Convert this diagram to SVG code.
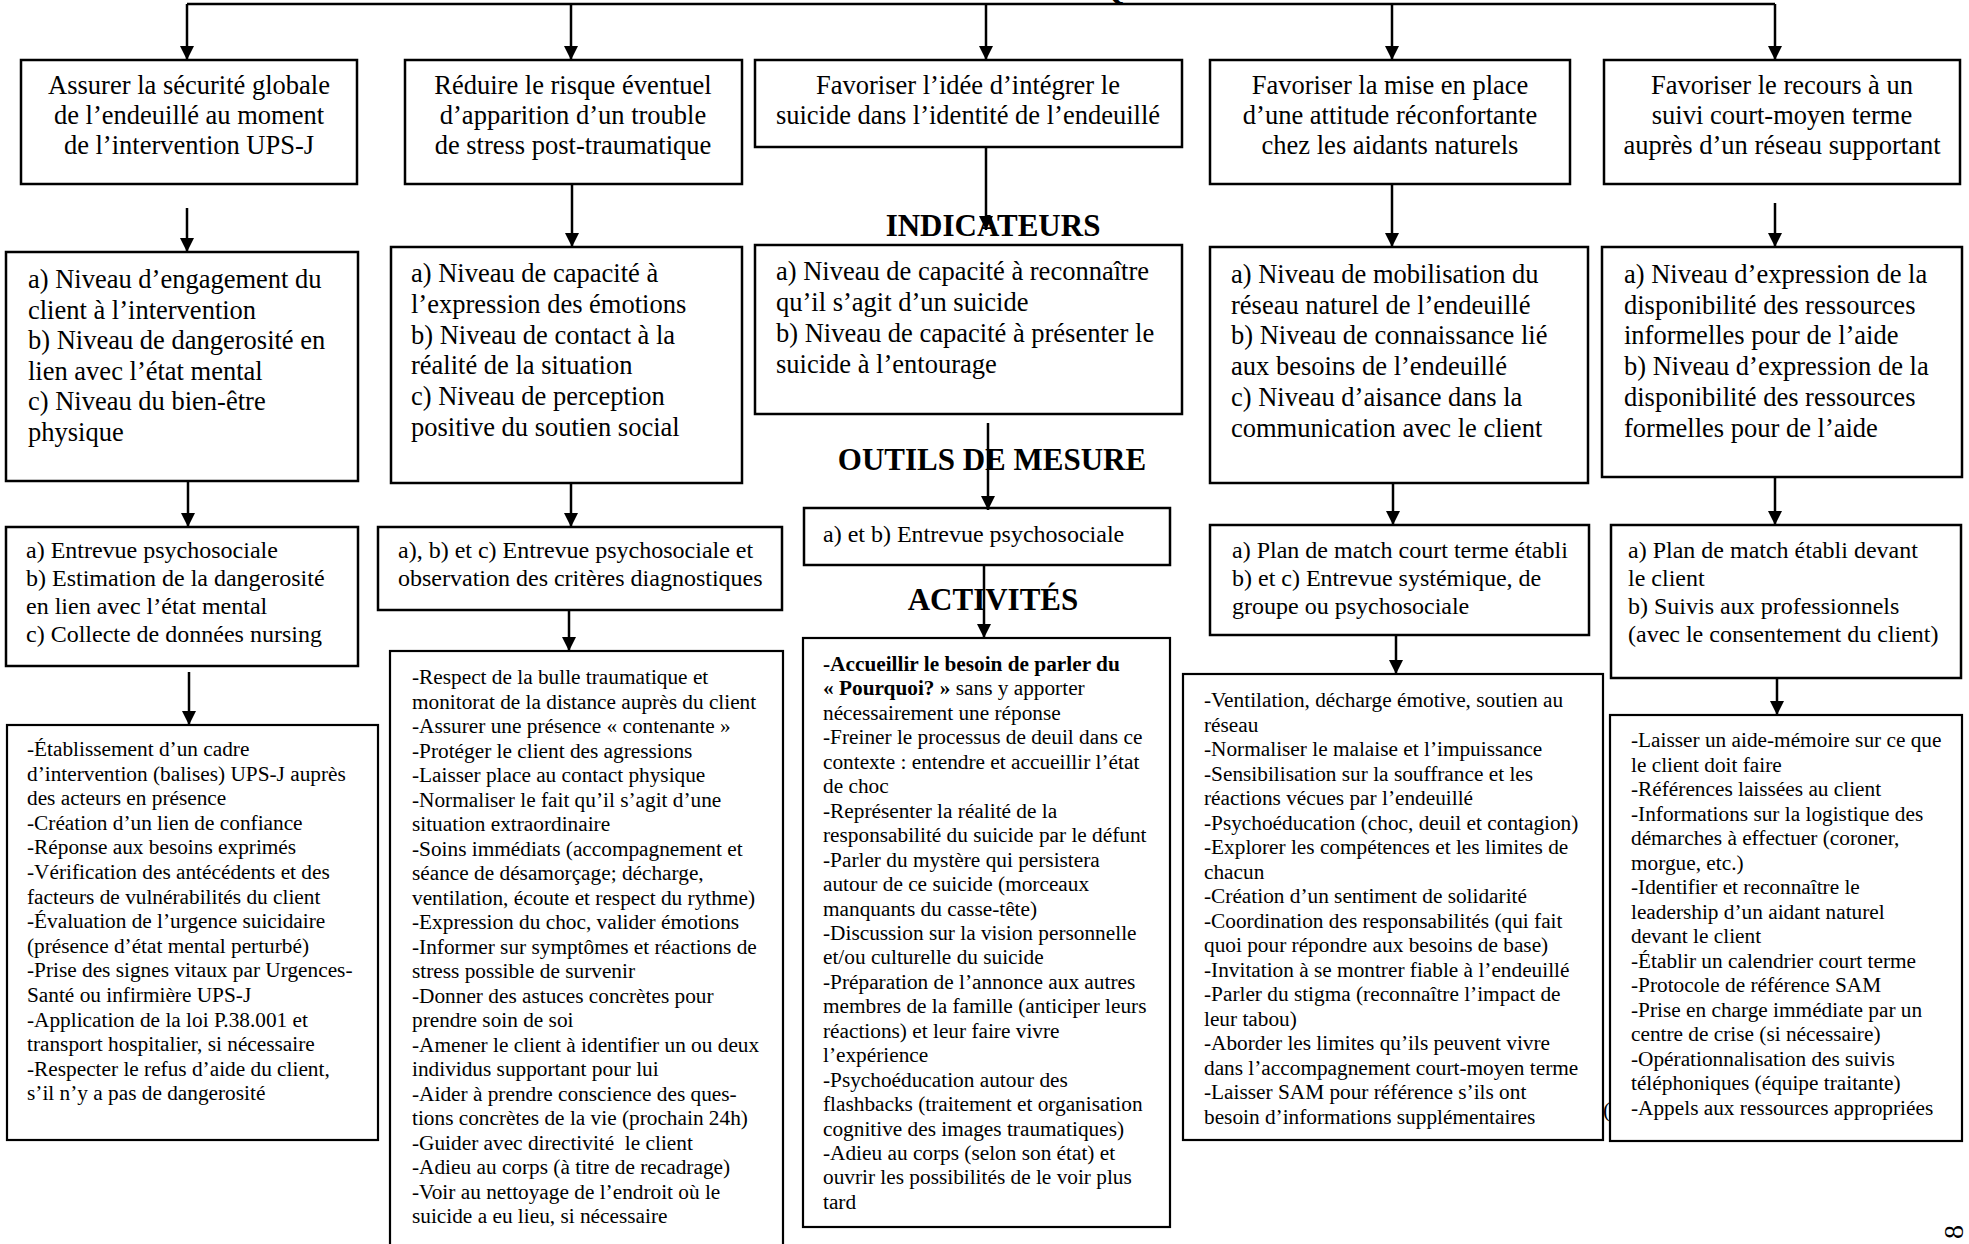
<svg xmlns="http://www.w3.org/2000/svg" width="1969" height="1244" viewBox="0 0 1969 1244">
<style>
.box{fill:#fff;stroke:#000;stroke-width:2.5}
.abox{fill:#fff;stroke:#000;stroke-width:2.2}
text{font-family:"Liberation Serif","Times New Roman",serif;fill:#000}
.t1{font-size:26.5px;text-anchor:middle}
.t2{font-size:26.5px}
.t3{font-size:24px}
.t4{font-size:21.3px}
.h{font-size:31px;font-weight:bold;text-anchor:middle}
.conn{stroke:#000;stroke-width:2.5;fill:none}
.arr{marker-end:url(#ah)}
</style>
<defs>
<marker id="ah" markerUnits="userSpaceOnUse" markerWidth="14" markerHeight="14" refX="14" refY="7" orient="auto">
<path d="M0,0 L14,7 L0,14 z" fill="#000"/>
</marker>
</defs>
<rect width="1969" height="1244" fill="#fff"/>

<g id="fragments">
<text x="1100" y="-1" style="font-size:31px;font-weight:bold">Q</text>
<text x="1603" y="1117" style="font-size:22px">(</text>
<text transform="translate(1953,1232) rotate(-90)" style="font-size:28px;text-anchor:middle;dominant-baseline:central">8</text>
</g>

<g id="headings">
<text class="h" x="993" y="236">INDICATEURS</text>
<text class="h" x="992" y="470">OUTILS DE MESURE</text>
<text class="h" x="993" y="610">ACTIVITÉS</text>
</g>

<g id="obj-a">
<rect class="box" x="21" y="60" width="336" height="124"/>
<text class="t1" x="189" y="94">Assurer la sécurité globale</text>
<text class="t1" x="189" y="124">de l’endeuillé au moment</text>
<text class="t1" x="189" y="154">de l’intervention UPS-J</text>
</g>
<g id="obj-b">
<rect class="box" x="405" y="60" width="337" height="124"/>
<text class="t1" x="573" y="94">Réduire le risque éventuel</text>
<text class="t1" x="573" y="124">d’apparition d’un trouble</text>
<text class="t1" x="573" y="154">de stress post-traumatique</text>
</g>
<g id="obj-c">
<rect class="box" x="755" y="60" width="427" height="87"/>
<text class="t1" x="968" y="94">Favoriser l’idée d’intégrer le</text>
<text class="t1" x="968" y="124">suicide dans l’identité de l’endeuillé</text>
</g>
<g id="obj-d">
<rect class="box" x="1210" y="60" width="360" height="124"/>
<text class="t1" x="1390" y="94">Favoriser la mise en place</text>
<text class="t1" x="1390" y="124">d’une attitude réconfortante</text>
<text class="t1" x="1390" y="154">chez les aidants naturels</text>
</g>
<g id="obj-e">
<rect class="box" x="1604" y="60" width="356" height="124"/>
<text class="t1" x="1782" y="94">Favoriser le recours à un</text>
<text class="t1" x="1782" y="124">suivi court-moyen terme</text>
<text class="t1" x="1782" y="154">auprès d’un réseau supportant</text>
</g>

<g id="ind-a">
<rect class="box" x="6" y="252" width="352" height="229"/>
<text class="t2" x="28" y="288">a) Niveau d’engagement du</text>
<text class="t2" x="28" y="318.6">client à l’intervention</text>
<text class="t2" x="28" y="349.2">b) Niveau de dangerosité en</text>
<text class="t2" x="28" y="379.8">lien avec l’état mental</text>
<text class="t2" x="28" y="410.4">c) Niveau du bien-être</text>
<text class="t2" x="28" y="441">physique</text>
</g>
<g id="ind-b">
<rect class="box" x="391" y="247" width="351" height="236"/>
<text class="t2" x="411" y="282">a) Niveau de capacité à</text>
<text class="t2" x="411" y="312.8">l’expression des émotions</text>
<text class="t2" x="411" y="343.6">b) Niveau de contact à la</text>
<text class="t2" x="411" y="374.4">réalité de la situation</text>
<text class="t2" x="411" y="405.2">c) Niveau de perception</text>
<text class="t2" x="411" y="436">positive du soutien social</text>
</g>
<g id="ind-c">
<rect class="box" x="755" y="245" width="427" height="169"/>
<text class="t2" x="776" y="280">a) Niveau de capacité à reconnaître</text>
<text class="t2" x="776" y="311">qu’il s’agit d’un suicide</text>
<text class="t2" x="776" y="342">b) Niveau de capacité à présenter le</text>
<text class="t2" x="776" y="373">suicide à l’entourage</text>
</g>
<g id="ind-d">
<rect class="box" x="1210" y="247" width="378" height="236"/>
<text class="t2" x="1231" y="283">a) Niveau de mobilisation du</text>
<text class="t2" x="1231" y="313.7">réseau naturel de l’endeuillé</text>
<text class="t2" x="1231" y="344.4">b) Niveau de connaissance lié</text>
<text class="t2" x="1231" y="375.1">aux besoins de l’endeuillé</text>
<text class="t2" x="1231" y="405.8">c) Niveau d’aisance dans la</text>
<text class="t2" x="1231" y="436.5">communication avec le client</text>
</g>
<g id="ind-e">
<rect class="box" x="1602" y="247" width="360" height="230"/>
<text class="t2" x="1624" y="283">a) Niveau d’expression de la</text>
<text class="t2" x="1624" y="313.7">disponibilité des ressources</text>
<text class="t2" x="1624" y="344.4">informelles pour de l’aide</text>
<text class="t2" x="1624" y="375.1">b) Niveau d’expression de la</text>
<text class="t2" x="1624" y="405.8">disponibilité des ressources</text>
<text class="t2" x="1624" y="436.5">formelles pour de l’aide</text>
</g>

<g id="out-a">
<rect class="box" x="6" y="527" width="352" height="139"/>
<text class="t3" x="26" y="558">a) Entrevue psychosociale</text>
<text class="t3" x="26" y="586">b) Estimation de la dangerosité</text>
<text class="t3" x="26" y="614">en lien avec l’état mental</text>
<text class="t3" x="26" y="642">c) Collecte de données nursing</text>
</g>
<g id="out-b">
<rect class="box" x="378" y="527" width="404" height="83"/>
<text class="t3" x="398" y="558">a), b) et c) Entrevue psychosociale et</text>
<text class="t3" x="398" y="586">observation des critères diagnostiques</text>
</g>
<g id="out-c">
<rect class="box" x="804" y="508" width="366" height="57"/>
<text class="t3" x="823" y="542">a) et b) Entrevue psychosociale</text>
</g>
<g id="out-d">
<rect class="box" x="1210" y="525" width="379" height="110"/>
<text class="t3" x="1232" y="558">a) Plan de match court terme établi</text>
<text class="t3" x="1232" y="586">b) et c) Entrevue systémique, de</text>
<text class="t3" x="1232" y="614">groupe ou psychosociale</text>
</g>
<g id="out-e">
<rect class="box" x="1611" y="525" width="350" height="153"/>
<text class="t3" x="1628" y="558">a) Plan de match établi devant</text>
<text class="t3" x="1628" y="586">le client</text>
<text class="t3" x="1628" y="614">b) Suivis aux professionnels</text>
<text class="t3" x="1628" y="642">(avec le consentement du client)</text>
</g>

<g id="act-a">
<rect class="abox" x="7" y="725" width="371" height="415"/>
<text class="t4" x="27" y="756">-Établissement d’un cadre</text>
<text class="t4" x="27" y="780.6">d’intervention (balises) UPS-J auprès</text>
<text class="t4" x="27" y="805.2">des acteurs en présence</text>
<text class="t4" x="27" y="829.8">-Création d’un lien de confiance</text>
<text class="t4" x="27" y="854.4">-Réponse aux besoins exprimés</text>
<text class="t4" x="27" y="879">-Vérification des antécédents et des</text>
<text class="t4" x="27" y="903.6">facteurs de vulnérabilités du client</text>
<text class="t4" x="27" y="928.2">-Évaluation de l’urgence suicidaire</text>
<text class="t4" x="27" y="952.8">(présence d’état mental perturbé)</text>
<text class="t4" x="27" y="977.4">-Prise des signes vitaux par Urgences-</text>
<text class="t4" x="27" y="1002">Santé ou infirmière UPS-J</text>
<text class="t4" x="27" y="1026.6">-Application de la loi P.38.001 et</text>
<text class="t4" x="27" y="1051.2">transport hospitalier, si nécessaire</text>
<text class="t4" x="27" y="1075.8">-Respecter le refus d’aide du client,</text>
<text class="t4" x="27" y="1100.4">s’il n’y a pas de dangerosité</text>
</g>
<g id="act-b">
<rect class="abox" x="390" y="651" width="393" height="610"/>
<text class="t4" x="412" y="684">-Respect de la bulle traumatique et</text>
<text class="t4" x="412" y="708.5">monitorat de la distance auprès du client</text>
<text class="t4" x="412" y="733">-Assurer une présence « contenante »</text>
<text class="t4" x="412" y="757.5">-Protéger le client des agressions</text>
<text class="t4" x="412" y="782">-Laisser place au contact physique</text>
<text class="t4" x="412" y="806.5">-Normaliser le fait qu’il s’agit d’une</text>
<text class="t4" x="412" y="831">situation extraordinaire</text>
<text class="t4" x="412" y="855.5">-Soins immédiats (accompagnement et</text>
<text class="t4" x="412" y="880">séance de désamorçage; décharge,</text>
<text class="t4" x="412" y="904.5">ventilation, écoute et respect du rythme)</text>
<text class="t4" x="412" y="929">-Expression du choc, valider émotions</text>
<text class="t4" x="412" y="953.5">-Informer sur symptômes et réactions de</text>
<text class="t4" x="412" y="978">stress possible de survenir</text>
<text class="t4" x="412" y="1002.5">-Donner des astuces concrètes pour</text>
<text class="t4" x="412" y="1027">prendre soin de soi</text>
<text class="t4" x="412" y="1051.5">-Amener le client à identifier un ou deux</text>
<text class="t4" x="412" y="1076">individus supportant pour lui</text>
<text class="t4" x="412" y="1100.5">-Aider à prendre conscience des ques-</text>
<text class="t4" x="412" y="1125">tions concrètes de la vie (prochain 24h)</text>
<text class="t4" x="412" y="1149.5">-Guider avec directivité&#160; le client</text>
<text class="t4" x="412" y="1174">-Adieu au corps (à titre de recadrage)</text>
<text class="t4" x="412" y="1198.5">-Voir au nettoyage de l’endroit où le</text>
<text class="t4" x="412" y="1223">suicide a eu lieu, si nécessaire</text>
</g>
<g id="act-c">
<rect class="abox" x="803" y="638" width="367" height="589"/>
<text class="t4" x="823" y="671" font-weight="bold">-Accueillir le besoin de parler du</text>
<text class="t4" x="823" y="695.45"><tspan font-weight="bold">« Pourquoi? »</tspan> sans y apporter</text>
<text class="t4" x="823" y="719.9">nécessairement une réponse</text>
<text class="t4" x="823" y="744.35">-Freiner le processus de deuil dans ce</text>
<text class="t4" x="823" y="768.8">contexte : entendre et accueillir l’état</text>
<text class="t4" x="823" y="793.25">de choc</text>
<text class="t4" x="823" y="817.7">-Représenter la réalité de la</text>
<text class="t4" x="823" y="842.15">responsabilité du suicide par le défunt</text>
<text class="t4" x="823" y="866.6">-Parler du mystère qui persistera</text>
<text class="t4" x="823" y="891.05">autour de ce suicide (morceaux</text>
<text class="t4" x="823" y="915.5">manquants du casse-tête)</text>
<text class="t4" x="823" y="939.95">-Discussion sur la vision personnelle</text>
<text class="t4" x="823" y="964.4">et/ou culturelle du suicide</text>
<text class="t4" x="823" y="988.85">-Préparation de l’annonce aux autres</text>
<text class="t4" x="823" y="1013.3">membres de la famille (anticiper leurs</text>
<text class="t4" x="823" y="1037.75">réactions) et leur faire vivre</text>
<text class="t4" x="823" y="1062.2">l’expérience</text>
<text class="t4" x="823" y="1086.65">-Psychoéducation autour des</text>
<text class="t4" x="823" y="1111.1">flashbacks (traitement et organisation</text>
<text class="t4" x="823" y="1135.55">cognitive des images traumatiques)</text>
<text class="t4" x="823" y="1160">-Adieu au corps (selon son état) et</text>
<text class="t4" x="823" y="1184.45">ouvrir les possibilités de le voir plus</text>
<text class="t4" x="823" y="1208.9">tard</text>
</g>
<g id="act-d">
<rect class="abox" x="1183" y="674" width="420" height="466"/>
<text class="t4" x="1204" y="707">-Ventilation, décharge émotive, soutien au</text>
<text class="t4" x="1204" y="731.5">réseau</text>
<text class="t4" x="1204" y="756">-Normaliser le malaise et l’impuissance</text>
<text class="t4" x="1204" y="780.5">-Sensibilisation sur la souffrance et les</text>
<text class="t4" x="1204" y="805">réactions vécues par l’endeuillé</text>
<text class="t4" x="1204" y="829.5">-Psychoéducation (choc, deuil et contagion)</text>
<text class="t4" x="1204" y="854">-Explorer les compétences et les limites de</text>
<text class="t4" x="1204" y="878.5">chacun</text>
<text class="t4" x="1204" y="903">-Création d’un sentiment de solidarité</text>
<text class="t4" x="1204" y="927.5">-Coordination des responsabilités (qui fait</text>
<text class="t4" x="1204" y="952">quoi pour répondre aux besoins de base)</text>
<text class="t4" x="1204" y="976.5">-Invitation à se montrer fiable à l’endeuillé</text>
<text class="t4" x="1204" y="1001">-Parler du stigma (reconnaître l’impact de</text>
<text class="t4" x="1204" y="1025.5">leur tabou)</text>
<text class="t4" x="1204" y="1050">-Aborder les limites qu’ils peuvent vivre</text>
<text class="t4" x="1204" y="1074.5">dans l’accompagnement court-moyen terme</text>
<text class="t4" x="1204" y="1099">-Laisser SAM pour référence s’ils ont</text>
<text class="t4" x="1204" y="1123.5">besoin d’informations supplémentaires</text>
</g>
<g id="act-e">
<rect class="abox" x="1610" y="715" width="352" height="426"/>
<text class="t4" x="1631" y="747">-Laisser un aide-mémoire sur ce que</text>
<text class="t4" x="1631" y="771.5">le client doit faire</text>
<text class="t4" x="1631" y="796">-Références laissées au client</text>
<text class="t4" x="1631" y="820.5">-Informations sur la logistique des</text>
<text class="t4" x="1631" y="845">démarches à effectuer (coroner,</text>
<text class="t4" x="1631" y="869.5">morgue, etc.)</text>
<text class="t4" x="1631" y="894">-Identifier et reconnaître le</text>
<text class="t4" x="1631" y="918.5">leadership d’un aidant naturel</text>
<text class="t4" x="1631" y="943">devant le client</text>
<text class="t4" x="1631" y="967.5">-Établir un calendrier court terme</text>
<text class="t4" x="1631" y="992">-Protocole de référence SAM</text>
<text class="t4" x="1631" y="1016.5">-Prise en charge immédiate par un</text>
<text class="t4" x="1631" y="1041">centre de crise (si nécessaire)</text>
<text class="t4" x="1631" y="1065.5">-Opérationnalisation des suivis</text>
<text class="t4" x="1631" y="1090">téléphoniques (équipe traitante)</text>
<text class="t4" x="1631" y="1114.5">-Appels aux ressources appropriées</text>
</g>

<g id="connectors">
<path class="conn" d="M187,4 H1775"/>
<path class="conn arr" d="M187,4 V60"/>
<path class="conn arr" d="M571,4 V60"/>
<path class="conn arr" d="M986,4 V60"/>
<path class="conn arr" d="M1392,4 V60"/>
<path class="conn arr" d="M1775,4 V60"/>
<path class="conn arr" d="M187,208 V252"/>
<path class="conn arr" d="M572,184 V247"/>
<path class="conn arr" d="M986,147 V230"/>
<path class="conn arr" d="M1392,184 V247"/>
<path class="conn arr" d="M1775,203 V247"/>
<path class="conn arr" d="M188,481 V527"/>
<path class="conn arr" d="M571,483 V527"/>
<path class="conn arr" d="M988,423 V510"/>
<path class="conn arr" d="M1393,483 V525"/>
<path class="conn arr" d="M1775,477 V525"/>
<path class="conn arr" d="M189,672 V725"/>
<path class="conn arr" d="M569,610 V651"/>
<path class="conn arr" d="M984,565 V638"/>
<path class="conn arr" d="M1396,635 V674"/>
<path class="conn arr" d="M1777,678 V715"/>
</g>
</svg>
